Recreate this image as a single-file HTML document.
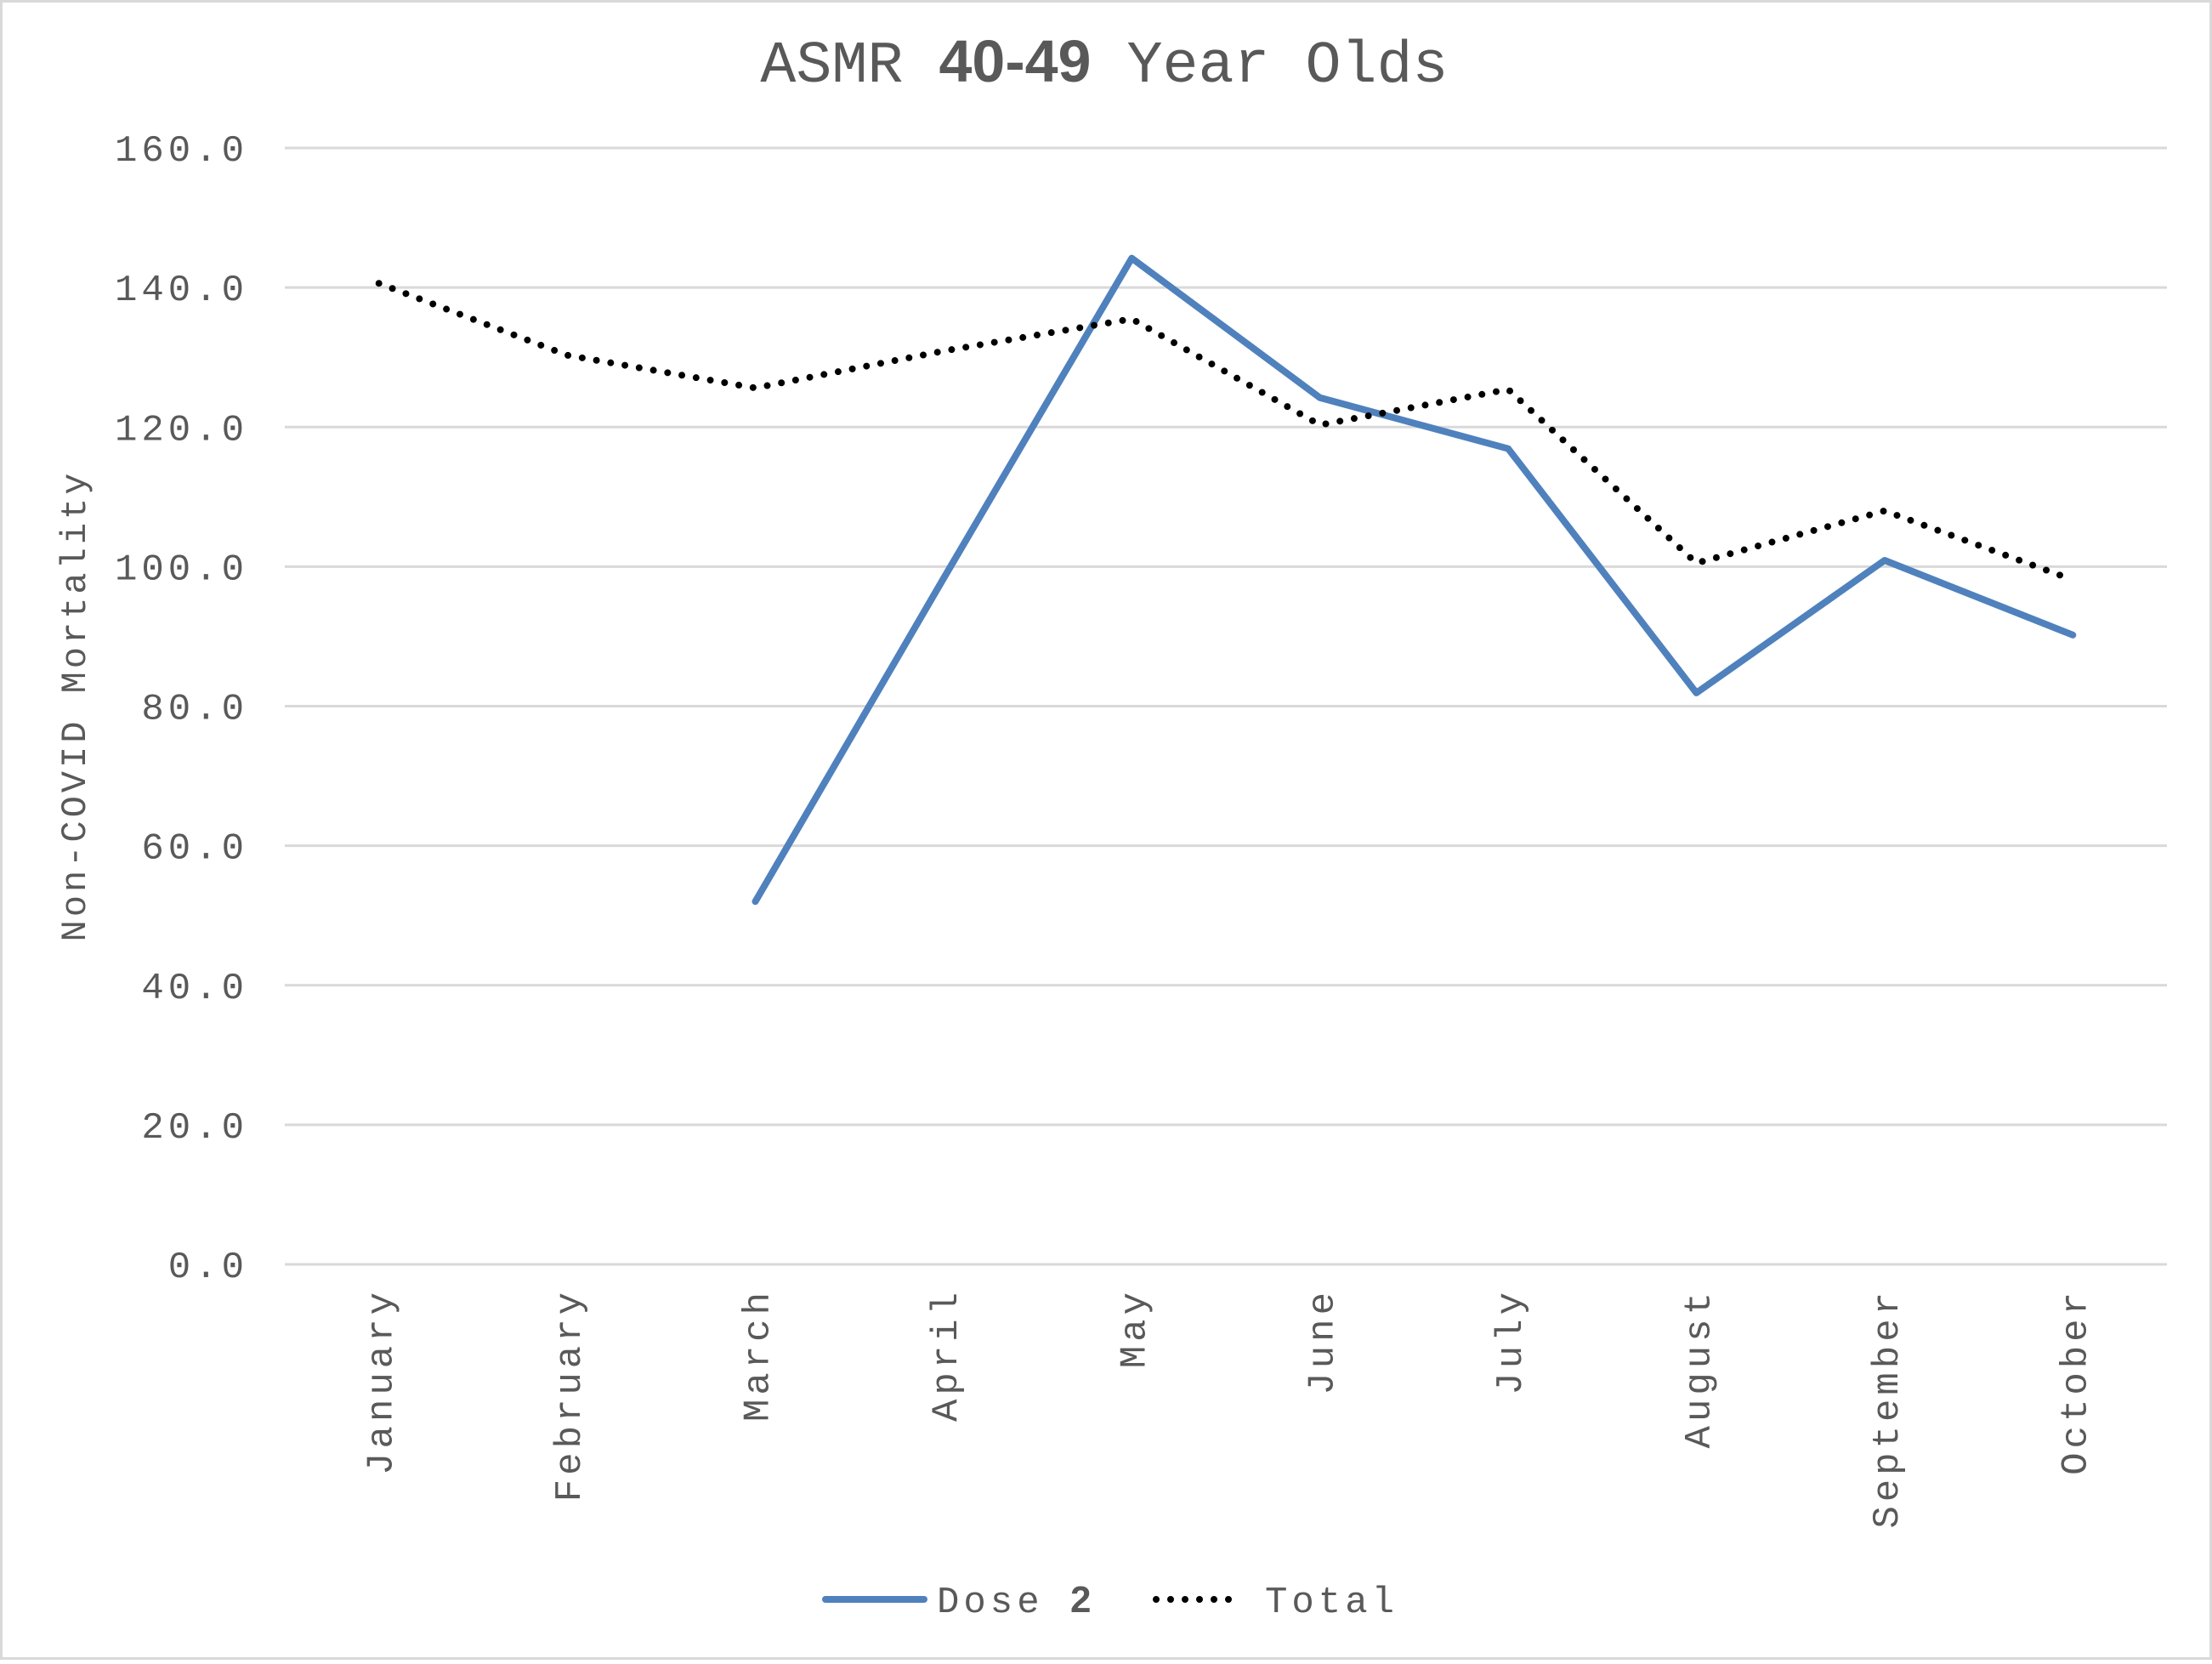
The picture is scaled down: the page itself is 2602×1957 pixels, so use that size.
<!DOCTYPE html>
<html><head><meta charset="utf-8"><style>
html,body{margin:0;padding:0;background:#fff}
svg text{font-family:"Liberation Mono",monospace;fill:#595959}
</style></head><body>
<svg width="2602" height="1952" xmlns="http://www.w3.org/2000/svg">
<rect x="1.5" y="1.5" width="2599" height="1949" fill="#fff" stroke="#d9d9d9" stroke-width="3"/>
<text x="1299" y="96" text-anchor="middle" font-size="70">ASMR <tspan font-weight="bold" font-family="Liberation Sans Narrow, Liberation Sans, sans-serif">40-49</tspan> Year Olds</text>
<g id="grid"></g>
<g id="ylabels"></g>
<g id="xlabels"></g>
<text transform="translate(100,830) rotate(-90)" text-anchor="middle" font-size="42" letter-spacing="4">Non-COVID Mortality</text>
<g id="series"></g>
<g>
<line x1="971" y1="1881" x2="1087" y2="1881" stroke="#4f81bd" stroke-width="8" stroke-linecap="round"/>
<text x="1102" y="1896" font-size="44" letter-spacing="5">Dose <tspan font-weight="bold" font-family="Liberation Sans, sans-serif">2</tspan></text>
<line x1="1360" y1="1881" x2="1460" y2="1881" stroke="#000" stroke-width="8" stroke-linecap="round" stroke-dasharray="0 17"/>
<text x="1488" y="1896" font-size="44" letter-spacing="5">Total</text>
</g>
</svg>
<script>
const categories=["January","February","March","April","May","June","July","August","September","October"];
const dose2=[null,null,52.0,98.3,144.2,124.2,116.9,81.9,100.9,90.2];
const total=[140.6,130.3,125.6,130.9,135.5,120.3,125.4,100.5,108.0,98.1];
const yTicks=[0,20,40,60,80,100,120,140,160];
const yTickLabels=["0.0","20.0","40.0","60.0","80.0","100.0","120.0","140.0","160.0"];
const NS="http://www.w3.org/2000/svg";
const L=335,R=2549,T=174,B=1487,YMAX=160;
const y=v=>B-(v/YMAX)*(B-T);
const x=i=>L+(i+0.5)*(R-L)/categories.length;
function mk(tag,attrs,parent){const e=document.createElementNS(NS,tag);for(const k in attrs)e.setAttribute(k,attrs[k]);parent.appendChild(e);return e;}
const grid=document.getElementById('grid'),yl=document.getElementById('ylabels'),xl=document.getElementById('xlabels'),se=document.getElementById('series');
yTicks.forEach((t,i)=>{
 const g=mk('line',{x1:L,x2:R,y1:y(t),y2:y(t),stroke:'#d9d9d9','stroke-width':3},grid);
 
 
 const tx=mk('text',{x:292,y:y(t)+15,'text-anchor':'end','font-size':44,'letter-spacing':5},yl);
 tx.textContent=yTickLabels[i];
 
 
});
categories.forEach((c,i)=>{
 const tx=mk('text',{transform:`translate(${x(i)+15},1515) rotate(-90)`,'text-anchor':'end','font-size':44,'letter-spacing':5},xl);
 tx.textContent=c;
 
 
});
function path(arr){let d='';arr.forEach((v,i)=>{if(v==null)return;d+=(d?'L':'M')+x(i)+','+y(v);});return d;}
const p1=mk('path',{d:path(dose2),fill:'none',stroke:'#4f81bd','stroke-width':8,'stroke-linecap':'round','stroke-linejoin':'round'},se);


const p2=mk('path',{d:path(total),fill:'none',stroke:'#000','stroke-width':8,'stroke-linecap':'round','stroke-linejoin':'round','stroke-dasharray':'0 17'},se);


</script>
</body></html>
